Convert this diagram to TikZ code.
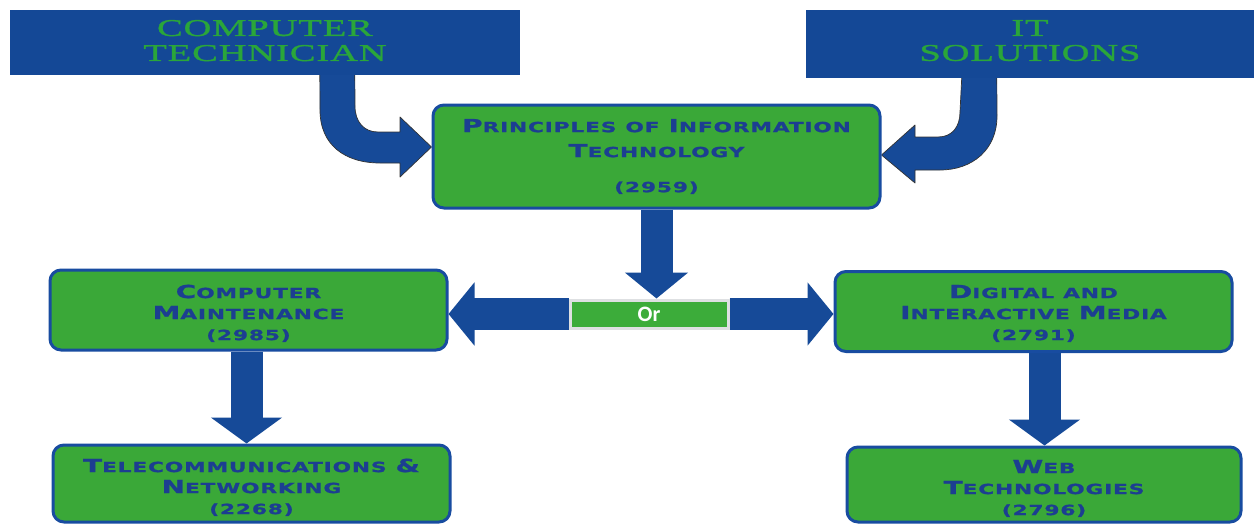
\documentclass[tikz,border=0pt]{standalone}
\usepackage{fontspec}
\usetikzlibrary{arrows.meta,calc}
\newfontfamily\capsfont[FakeStretch=1.55,LetterSpace=6,FakeBold=1.2]{DejaVu Sans Bold}
\newfontfamily\titlefont[FakeStretch=1.6,LetterSpace=4,FakeBold=1.4]{Liberation Serif}
\newfontfamily\orfont{Carlito Bold}
% hand-made small capitals: large initial, smaller remaining capitals
\newcommand\scw[2]{{\fontsize{18}{21}\selectfont #1}{\fontsize{14}{21}\selectfont #2}}
\newcommand\wsp{\hspace{9pt}}
% invisible struts that nudge a box's lines down or up
\newcommand\lowerby[1]{\rule{0pt}{#1}}
\newcommand\raiseby[1]{\rule[-#1]{0pt}{#1}}
\definecolor{navy}{RGB}{20,72,150}
\definecolor{arrowblue}{RGB}{22,74,152}
\definecolor{boxgreen}{RGB}{58,168,56}
\definecolor{boxedge}{RGB}{24,76,160}
\definecolor{leaftext}{RGB}{28,62,145}
\definecolor{titlegreen}{RGB}{42,166,58}
\definecolor{orgreen}{RGB}{60,172,58}
\definecolor{orrim}{RGB}{222,224,226}
\pgfdeclarelayer{behind}
\pgfsetlayers{behind,main}
\begin{document}
\begin{tikzpicture}[x=1pt,y=-1pt,
  topbox/.style={fill=navy,draw=none,inner sep=0pt,align=center,
    text=titlegreen,font=\titlefont\fontsize{24}{25}\selectfont},
  gbox/.style={fill=boxgreen,draw=boxedge,line width=3pt,rounded corners=11pt,
    inner sep=0pt,align=center,text=leaftext,font=\capsfont\fontsize{18}{21}\selectfont},
  orbox/.style={fill=orgreen,draw=orrim,line width=3pt,inner sep=0pt,
    text=white,font=\orfont\fontsize{22}{22}\selectfont},
  barrow/.style={draw=arrowblue,line width=32pt,
    -{Triangle[width=62pt,length=26pt]}},
  wide head/.style={-{Triangle[width=70pt,length=26pt]}},
  bentarrow/.style={fill=arrowblue,draw=black!80,line width=0.7pt,line join=round}]
\useasboundingbox (0,0) rectangle (1254,525);

% career headings
\node[topbox,minimum width=510pt,minimum height=65pt] (ct) at (265,42.5)
  {COMPUTER\\TECHNICIAN\raiseby{4pt}};
\node[topbox,minimum width=448pt,minimum height=68pt] (its) at (1030,44)
  {IT\\SOLUTIONS\raiseby{7pt}};

% courses
\node[gbox,minimum width=447pt,minimum height=103pt] (pit) at (656.5,156.5)
  {\scw{P}{RINCIPLES}\wsp\scw{}{OF}\wsp\scw{I}{NFORMATION}\\[4pt]
   \scw{T}{ECHNOLOGY}\\[14pt]
   \scw{}{(2959)}};
\node[orbox,minimum width=158pt,minimum height=28pt] (or) at (649,314) {Or};
\node[gbox,minimum width=397pt,minimum height=80pt] (cm) at (248.5,310)
  {\lowerby{20pt}\scw{C}{OMPUTER}\\\scw{M}{AINTENANCE}\\\scw{}{(2985)}};
\node[gbox,minimum width=397pt,minimum height=80pt] (dim) at (1033.5,311.5)
  {\lowerby{17pt}\scw{D}{IGITAL}\wsp\scw{}{AND}\\
   \scw{I}{NTERACTIVE}\wsp\scw{M}{EDIA}\\\scw{}{(2791)}};
\node[gbox,minimum width=397pt,minimum height=77pt] (tn) at (251.5,483.5)
  {\lowerby{21pt}\scw{T}{ELECOMMUNICATIONS}\wsp\scw{\&}{}\\
   \scw{N}{ETWORKING}\\\scw{}{(2268)}};
\node[gbox,minimum width=394pt,minimum height=75pt] (wt) at (1044,484.5)
  {\lowerby{21pt}\scw{W}{EB}\\\scw{T}{ECHNOLOGIES}\\\scw{}{(2796)}};

\begin{pgfonlayer}{behind}
\fill[white] (0,0) rectangle (1254,525);
% bent arrows from the headings into the core course
\coordinate (ctfoot) at ($(ct.south west)+(310,-2)$);
\filldraw[bentarrow]
  (ctfoot) -- (320,110) .. controls (320,145) and (345,163) .. (380,163)
  -- (400,163) -- (400,177) -- (pit.west |- 0,147) -- (400,117) -- (400,132)
  -- (378,132) .. controls (364,132) and (355,122) .. (355,106)
  -- ($(ctfoot)+(35,0)$) -- cycle;
\coordinate (itsfoot) at ($(its.south west)+(191,-2)$);
\filldraw[bentarrow]
  (itsfoot) -- (997,116) .. controls (997,150) and (972,170) .. (940,170)
  -- (915,170) -- (915,183) -- (pit.east |- 0,155) -- (915,125) -- (915,137)
  -- (938,137) .. controls (952,137) and (960,127) .. (960,112)
  -- ($(itsfoot)+(-35,0)$) -- cycle;

% straight block arrows
\draw[barrow] (pit.south) -- (pit.south |- or.north);
\draw[barrow] (or.west) -- (cm.east |- or.west);
\draw[barrow] (or.east) -- (dim.west |- or.east);
\draw[barrow,wide head] ($(cm.south)+(-2,0)$) -- ($(tn.north)+(-5,0)$);
\draw[barrow,wide head] ($(dim.south)+(11,0)$) -- ($(wt.north)+(0.5,0)$);
\end{pgfonlayer}
\end{tikzpicture}
\end{document}
